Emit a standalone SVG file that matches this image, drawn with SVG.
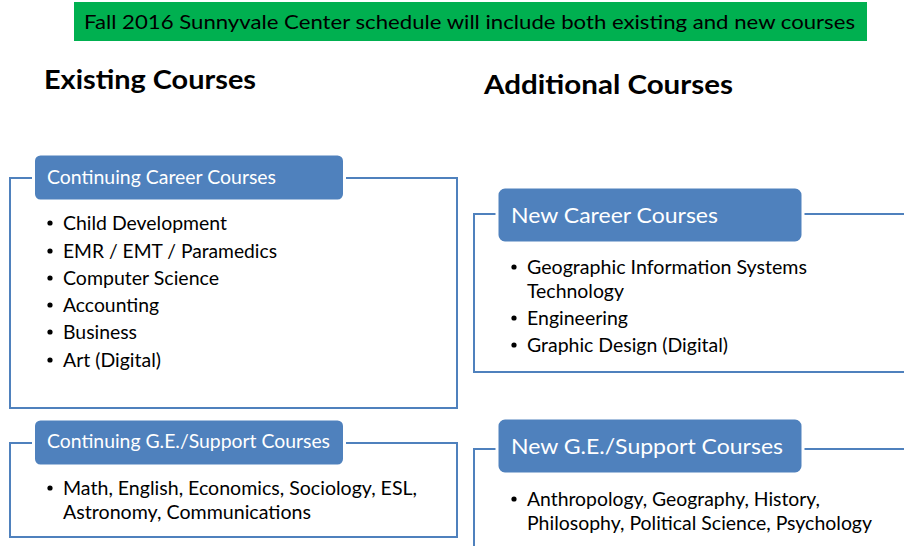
<svg xmlns="http://www.w3.org/2000/svg" width="904" height="546" viewBox="0 0 904 546">
  <style>
    text { font-family: Lato, "Open Sans", "Liberation Sans", sans-serif; }
    .frame { fill: none; stroke: #4F81BD; stroke-width: 2; }
    .tab { fill: #4F81BD; stroke: #ffffff; stroke-width: 3; }
    .tabtext { fill: #ffffff; }
    .item { fill: #000000; font-size: 19.5px; }
    .dot { fill: #000000; }
    .title { fill: #000000; font-size: 27px; font-weight: bold; }
  </style>
  <defs>
    <circle id="bullet" class="dot" r="2.6"/>
  </defs>
  <rect width="904" height="546" fill="#ffffff"/>

  <!-- banner -->
  <g id="banner">
    <rect x="74" y="2" width="793" height="39" fill="#00B050"/>
    <text x="84" y="29" font-size="20" fill="#000000" textLength="771" lengthAdjust="spacingAndGlyphs">Fall 2016 Sunnyvale Center schedule will include both existing and new courses</text>
  </g>

  <!-- column headings -->
  <g id="heading-existing">
    <text class="title" x="44" y="89" textLength="212" lengthAdjust="spacingAndGlyphs">Existing Courses</text>
  </g>
  <g id="heading-additional">
    <text class="title" x="484" y="94" textLength="249" lengthAdjust="spacingAndGlyphs">Additional Courses</text>
  </g>

  <!-- Continuing Career Courses -->
  <g id="continuing-career">
    <rect class="frame" x="10" y="178" width="447" height="230"/>
    <rect class="tab" x="33.5" y="154" width="311" height="47" rx="7"/>
    <text class="tabtext" x="47" y="184" font-size="19.5" textLength="229" lengthAdjust="spacingAndGlyphs">Continuing Career Courses</text>
    <use href="#bullet" x="50" y="223"/>
    <use href="#bullet" x="50" y="251"/>
    <use href="#bullet" x="50" y="278"/>
    <use href="#bullet" x="50" y="305"/>
    <use href="#bullet" x="50" y="332"/>
    <use href="#bullet" x="50" y="360"/>
    <g class="item">
      <text x="63" y="230" textLength="164" lengthAdjust="spacingAndGlyphs">Child Development</text>
      <text x="63" y="258" textLength="214" lengthAdjust="spacingAndGlyphs">EMR / EMT / Paramedics</text>
      <text x="63" y="285" textLength="156" lengthAdjust="spacingAndGlyphs">Computer Science</text>
      <text x="63" y="312" textLength="96" lengthAdjust="spacingAndGlyphs">Accounting</text>
      <text x="63" y="339" textLength="74" lengthAdjust="spacingAndGlyphs">Business</text>
      <text x="63" y="367" textLength="98" lengthAdjust="spacingAndGlyphs">Art (Digital)</text>
    </g>
  </g>

  <!-- Continuing G.E./Support Courses -->
  <g id="continuing-ge">
    <rect class="frame" x="10" y="443" width="447" height="94"/>
    <rect class="tab" x="33.5" y="419" width="311" height="47" rx="7"/>
    <text class="tabtext" x="47" y="448" font-size="19.5" textLength="283" lengthAdjust="spacingAndGlyphs">Continuing G.E./Support Courses</text>
    <use href="#bullet" x="50" y="488"/>
    <g class="item">
      <text x="63" y="495" textLength="354" lengthAdjust="spacingAndGlyphs">Math, English, Economics, Sociology, ESL,</text>
      <text x="63" y="519" textLength="248" lengthAdjust="spacingAndGlyphs">Astronomy, Communications</text>
    </g>
  </g>

  <!-- New Career Courses -->
  <g id="new-career">
    <polyline class="frame" points="910,214 474,214 474,372 910,372"/>
    <rect class="tab" x="497" y="187" width="306" height="56" rx="8"/>
    <text class="tabtext" x="511" y="223" font-size="21.5" textLength="207" lengthAdjust="spacingAndGlyphs">New Career Courses</text>
    <use href="#bullet" x="514" y="267"/>
    <use href="#bullet" x="514" y="318"/>
    <use href="#bullet" x="514" y="345"/>
    <g class="item">
      <text x="527" y="274" textLength="280" lengthAdjust="spacingAndGlyphs">Geographic Information Systems</text>
      <text x="527" y="298" textLength="97" lengthAdjust="spacingAndGlyphs">Technology</text>
      <text x="527" y="325" textLength="101" lengthAdjust="spacingAndGlyphs">Engineering</text>
      <text x="527" y="352" textLength="201" lengthAdjust="spacingAndGlyphs">Graphic Design (Digital)</text>
    </g>
  </g>

  <!-- New G.E./Support Courses -->
  <g id="new-ge">
    <polyline class="frame" points="910,449 474,449 474,550"/>
    <rect class="tab" x="497" y="418" width="306" height="56" rx="8"/>
    <text class="tabtext" x="511" y="454" font-size="21.5" textLength="272" lengthAdjust="spacingAndGlyphs">New G.E./Support Courses</text>
    <use href="#bullet" x="514" y="499"/>
    <g class="item">
      <text x="527" y="506" textLength="293" lengthAdjust="spacingAndGlyphs">Anthropology, Geography, History,</text>
      <text x="527" y="530" textLength="345" lengthAdjust="spacingAndGlyphs">Philosophy, Political Science, Psychology</text>
    </g>
  </g>
</svg>
